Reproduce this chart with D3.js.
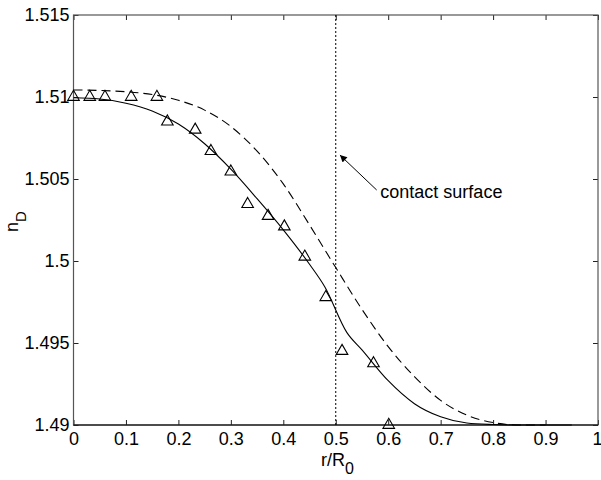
<!DOCTYPE html>
<html>
<head>
<meta charset="utf-8">
<script src="https://cdn.jsdelivr.net/npm/d3@7"></script>
<style>
  html, body { margin: 0; padding: 0; background: #fff; }
  svg { display: block; font-family: "Liberation Sans", Arial, Helvetica, sans-serif; }
</style>
</head>
<body>
<svg id="chart" width="601" height="480"></svg>
<script>
// ---- data ----
const xTicks = [0, 0.1, 0.2, 0.3, 0.4, 0.5, 0.6, 0.7, 0.8, 0.9, 1];
const xTickLabels = ["0", "0.1", "0.2", "0.3", "0.4", "0.5", "0.6", "0.7", "0.8", "0.9", "1"];
const yTicks = [1.49, 1.495, 1.5, 1.505, 1.51, 1.515];
const yTickLabels = ["1.49", "1.495", "1.5", "1.505", "1.51", "1.515"];

// measured (triangles)
const xMeas = [0, 0.031, 0.06, 0.11, 0.159, 0.179, 0.232, 0.262, 0.300, 0.332, 0.371, 0.402, 0.441, 0.481, 0.512, 0.572, 0.601];
const nMeas = [1.5100, 1.5100, 1.5100, 1.5100, 1.5100, 1.5085, 1.5080, 1.5067, 1.50545, 1.50347, 1.50274, 1.5021, 1.50026, 1.49779, 1.49451, 1.49376, 1.4900];

// solid curve
const xSolid = [0, 0.05, 0.1, 0.15, 0.2, 0.25, 0.3, 0.35, 0.4, 0.45, 0.479, 0.521, 0.55, 0.6, 0.65, 0.7, 0.75, 0.8, 0.85, 0.9, 0.95];
const nSolid = [1.50995, 1.50988, 1.50962, 1.50915, 1.50835, 1.50715, 1.50560, 1.50380, 1.50190, 1.49980, 1.49843, 1.49565, 1.49458, 1.49270, 1.49130, 1.49050, 1.49012, 1.49003, 1.49, 1.49, 1.49];

// dashed curve
const xDash = [0, 0.05, 0.1, 0.15, 0.2, 0.25, 0.3, 0.35, 0.4, 0.45, 0.5, 0.55, 0.6, 0.65, 0.7, 0.75, 0.8, 0.85, 0.9];
const nDash = [1.51043, 1.51040, 1.51032, 1.51015, 1.50980, 1.50920, 1.50820, 1.50670, 1.50470, 1.50220, 1.49960, 1.49705, 1.49478, 1.49295, 1.49150, 1.49060, 1.49015, 1.49, 1.49];

// annotation
const contactX = 0.5;
const arrowTip = [0.508, 1.50646];
const arrowTail = [0.578, 1.50433];
const noteText = "contact surface";
const notePos = [0.585, 1.50384];

// ---- layout ----
const svg = d3.select("#chart");
const x = d3.scaleLinear().domain([0, 1]).range([73.5, 598]);
const y = d3.scaleLinear().domain([1.49, 1.515]).range([425, 15]);
const fs = 18;

svg.append("rect").attr("width", 601).attr("height", 480).attr("fill", "#fff");

// axes
const gB = svg.append("g").attr("transform", `translate(0,${y(1.49)})`)
  .call(d3.axisBottom(x).tickValues(xTicks).tickFormat((d, i) => xTickLabels[i]).tickSizeInner(-5).tickSizeOuter(0).tickPadding(7));
const gT = svg.append("g").attr("transform", `translate(0,${y(1.515)})`)
  .call(d3.axisTop(x).tickValues(xTicks).tickFormat("").tickSizeInner(-5).tickSizeOuter(0));
const gL = svg.append("g").attr("transform", `translate(${x(0)},0)`)
  .call(d3.axisLeft(y).tickValues(yTicks).tickFormat((d, i) => yTickLabels[i]).tickSizeInner(-5).tickSizeOuter(0).tickPadding(4));
const gR = svg.append("g").attr("transform", `translate(${x(1)},0)`)
  .call(d3.axisRight(y).tickValues(yTicks).tickFormat("").tickSizeInner(-5).tickSizeOuter(0));

[gB, gT, gL, gR].forEach(g => {
  g.select(".domain").remove();
  g.selectAll("line").attr("stroke", "#222");
  g.selectAll("text").attr("font-size", fs).attr("fill", "#000").attr("font-family", "Liberation Sans, Arial, sans-serif");
});
// keep the last x label inside the picture
gB.selectAll(".tick text").filter(d => d === 1).attr("text-anchor", "end").attr("dx", 4);

// frame
svg.append("rect")
  .attr("x", x(0)).attr("y", y(1.515))
  .attr("width", x(1) - x(0)).attr("height", y(1.49) - y(1.515))
  .attr("fill", "none").attr("stroke", "#555").attr("stroke-width", 1.2);
svg.append("line")
  .attr("x1", x(0)).attr("x2", x(1)).attr("y1", y(1.49)).attr("y2", y(1.49))
  .attr("stroke", "#000").attr("stroke-width", 1.2);

// contact line
svg.append("line")
  .attr("x1", x(contactX)).attr("x2", x(contactX))
  .attr("y1", y(1.515)).attr("y2", y(1.49))
  .attr("stroke", "#000").attr("stroke-width", 1).attr("stroke-dasharray", "2,2");

// curves
const line = d3.line().x(d => x(d[0])).y(d => y(d[1])).curve(d3.curveMonotoneX);
svg.append("path")
  .datum(xSolid.map((v, i) => [v, nSolid[i]]))
  .attr("d", line).attr("fill", "none").attr("stroke", "#000").attr("stroke-width", 1.1);
svg.append("path")
  .datum(xDash.map((v, i) => [v, nDash[i]]))
  .attr("d", line).attr("fill", "none").attr("stroke", "#000").attr("stroke-width", 1.1)
  .attr("stroke-dasharray", "9,5");

// markers
const tri = d3.symbol().type(d3.symbolTriangle).size(58);
svg.append("g").selectAll("path")
  .data(xMeas.map((v, i) => [v, nMeas[i]]))
  .join("path")
  .attr("d", tri)
  .attr("transform", d => `translate(${x(d[0])},${y(d[1])})`)
  .attr("fill", "none").attr("stroke", "#000").attr("stroke-width", 1.1);

// arrow annotation
svg.append("defs").append("marker")
  .attr("id", "ah").attr("viewBox", "0 0 10 10").attr("refX", 10).attr("refY", 5)
  .attr("markerWidth", 9).attr("markerHeight", 7).attr("markerUnits", "userSpaceOnUse")
  .attr("orient", "auto")
  .append("path").attr("d", "M0,0 L10,5 L0,10 Z").attr("fill", "#000");
svg.append("line")
  .attr("x1", x(arrowTail[0])).attr("y1", y(arrowTail[1]))
  .attr("x2", x(arrowTip[0])).attr("y2", y(arrowTip[1]))
  .attr("stroke", "#000").attr("stroke-width", 1)
  .attr("marker-end", "url(#ah)");
svg.append("text")
  .attr("x", x(notePos[0])).attr("y", y(notePos[1]))
  .attr("font-size", fs).attr("fill", "#000")
  .text(noteText);

// axis titles
const xl = svg.append("text")
  .attr("x", 321).attr("y", 466)
  .attr("font-size", fs).attr("fill", "#000");
xl.append("tspan").text("r/R");
xl.append("tspan").attr("dy", 8).attr("font-size", 16).text("0");

const yl = svg.append("text")
  .attr("transform", "translate(18,232) rotate(-90)")
  .attr("font-size", fs).attr("fill", "#000");
yl.append("tspan").text("n");
yl.append("tspan").attr("dy", 8).attr("font-size", 15).text("D");
</script>
</body>
</html>
